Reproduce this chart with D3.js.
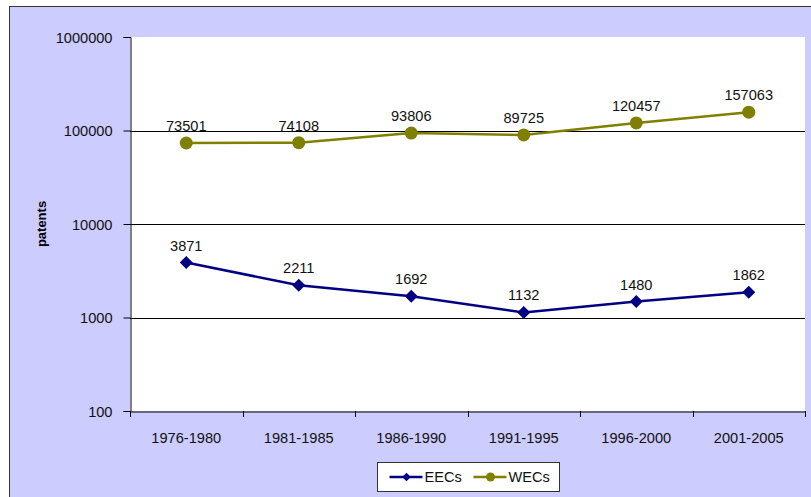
<!DOCTYPE html>
<html>
<head>
<meta charset="utf-8">
<script src="https://cdn.jsdelivr.net/npm/d3@7"></script>
<style>
  html, body { margin: 0; padding: 0; background: #fff; }
  svg { display: block; font-family: Arial, "Liberation Sans", sans-serif; }
</style>
</head>
<body>
<svg id="chart" width="811" height="497"></svg>
<script>
// ── Data ──
const periods = ["1976-1980", "1981-1985", "1986-1990", "1991-1995", "1996-2000", "2001-2005"];
const eecs = [3871, 2211, 1692, 1132, 1480, 1862];
const wecs = [73501, 74108, 93806, 89725, 120457, 157063];
const yTicks = [100, 1000, 10000, 100000, 1000000];

const series = [
  { name: "EECs", values: eecs, color: "#000080", marker: "diamond" },
  { name: "WECs", values: wecs, color: "#808000", marker: "circle" }
];

const W = 811, H = 497;
const m = { left: 130, right: 6, top: 37, bottom: 86 };
const FS = 14.6;
const svg = d3.select("#chart");

// outer frame
svg.append("rect").attr("x", 0).attr("y", 0).attr("width", W).attr("height", H).attr("fill", "#fff");
svg.append("rect").attr("x", 9.5).attr("y", 6.5).attr("width", W).attr("height", H)
  .attr("fill", "#CCCCFF").attr("stroke", "#333").attr("stroke-width", 1);

const x = d3.scaleBand().domain(periods).range([m.left, W - m.right]);
const y = d3.scaleLog().domain([100, 1000000]).range([H - m.bottom, m.top]);

// plot area
svg.append("rect").attr("x", m.left).attr("y", m.top)
  .attr("width", W - m.right - m.left).attr("height", H - m.bottom - m.top).attr("fill", "#fff");

// gridlines
svg.append("g").selectAll("line").data(yTicks.slice(1, -1)).join("line")
  .attr("x1", m.left).attr("x2", W - m.right)
  .attr("y1", d => Math.round(y(d)) + 0.5).attr("y2", d => Math.round(y(d)) + 0.5)
  .attr("stroke", "#000").attr("stroke-width", 1);

// y axis
const yAxis = svg.append("g").attr("transform", `translate(${m.left + 0.5},0)`)
  .call(d3.axisLeft(y).tickValues(yTicks).tickFormat(d3.format("d")).tickSizeOuter(0).tickSize(7));
yAxis.select(".domain").attr("stroke", "#000");
yAxis.selectAll(".tick line").attr("stroke", "#000");
yAxis.selectAll(".tick text").attr("font-size", FS).attr("fill", "#111").attr("x", -18).attr("dy", "0.36em");

// x axis
const xAxis = svg.append("g").attr("transform", `translate(0,${H - m.bottom + 0.5})`)
  .call(d3.axisBottom(x).tickSize(0).tickSizeOuter(0));
xAxis.select(".domain").attr("stroke", "#000");
xAxis.selectAll(".tick text").attr("font-size", FS).attr("fill", "#111").attr("y", 31).attr("dy", 0);
// category boundary ticks
svg.append("g").selectAll("line").data(periods.concat(["end"])).join("line")
  .attr("x1", (d, i) => Math.round(m.left + i * x.bandwidth()) + 0.5)
  .attr("x2", (d, i) => Math.round(m.left + i * x.bandwidth()) + 0.5)
  .attr("y1", H - m.bottom).attr("y2", H - m.bottom + 6)
  .attr("stroke", "#000");

// y title
svg.append("text").attr("transform", `translate(46,${(m.top + H - m.bottom) / 2}) rotate(-90)`)
  .attr("text-anchor", "middle").attr("font-size", 13).attr("font-weight", "bold")
  .attr("fill", "#000").text("patents");

const cx = d => x(d) + x.bandwidth() / 2;
const line = d3.line().x((v, i) => cx(periods[i])).y(v => y(v));

series.forEach(s => {
  const g = svg.append("g");
  g.append("path").attr("d", line(s.values)).attr("fill", "none")
    .attr("stroke", s.color).attr("stroke-width", 2.5);
  s.values.forEach((v, i) => {
    const px = cx(periods[i]), py = y(v);
    if (s.marker === "circle") {
      g.append("circle").attr("cx", px).attr("cy", py).attr("r", 6.5).attr("fill", s.color);
    } else {
      g.append("path").attr("d", d3.symbol().type(d3.symbolSquare).size(85)())
        .attr("transform", `translate(${px},${py}) rotate(45)`).attr("fill", s.color);
    }
    g.append("text").attr("x", px).attr("y", py - 12).attr("text-anchor", "middle")
      .attr("font-size", FS).attr("fill", "#111").text(v);
  });
});

// legend
const lg = svg.append("g").attr("transform", "translate(377.5,462.5)");
lg.append("rect").attr("width", 182).attr("height", 29).attr("fill", "#fff")
  .attr("stroke", "#333").attr("stroke-width", 1);
series.forEach((s, i) => {
  const ox = 12 + i * 84;
  lg.append("line").attr("x1", ox).attr("x2", ox + 33).attr("y1", 14.5).attr("y2", 14.5)
    .attr("stroke", s.color).attr("stroke-width", 2.5);
  if (s.marker === "circle") {
    lg.append("circle").attr("cx", ox + 17).attr("cy", 14.5).attr("r", 4.5).attr("fill", s.color);
  } else {
    lg.append("path").attr("d", d3.symbol().type(d3.symbolSquare).size(36)())
      .attr("transform", `translate(${ox + 17},14.5) rotate(45)`).attr("fill", s.color);
  }
  lg.append("text").attr("x", ox + 35).attr("y", 19.5).attr("font-size", FS)
    .attr("fill", "#111").text(s.name);
});
</script>
</body>
</html>
